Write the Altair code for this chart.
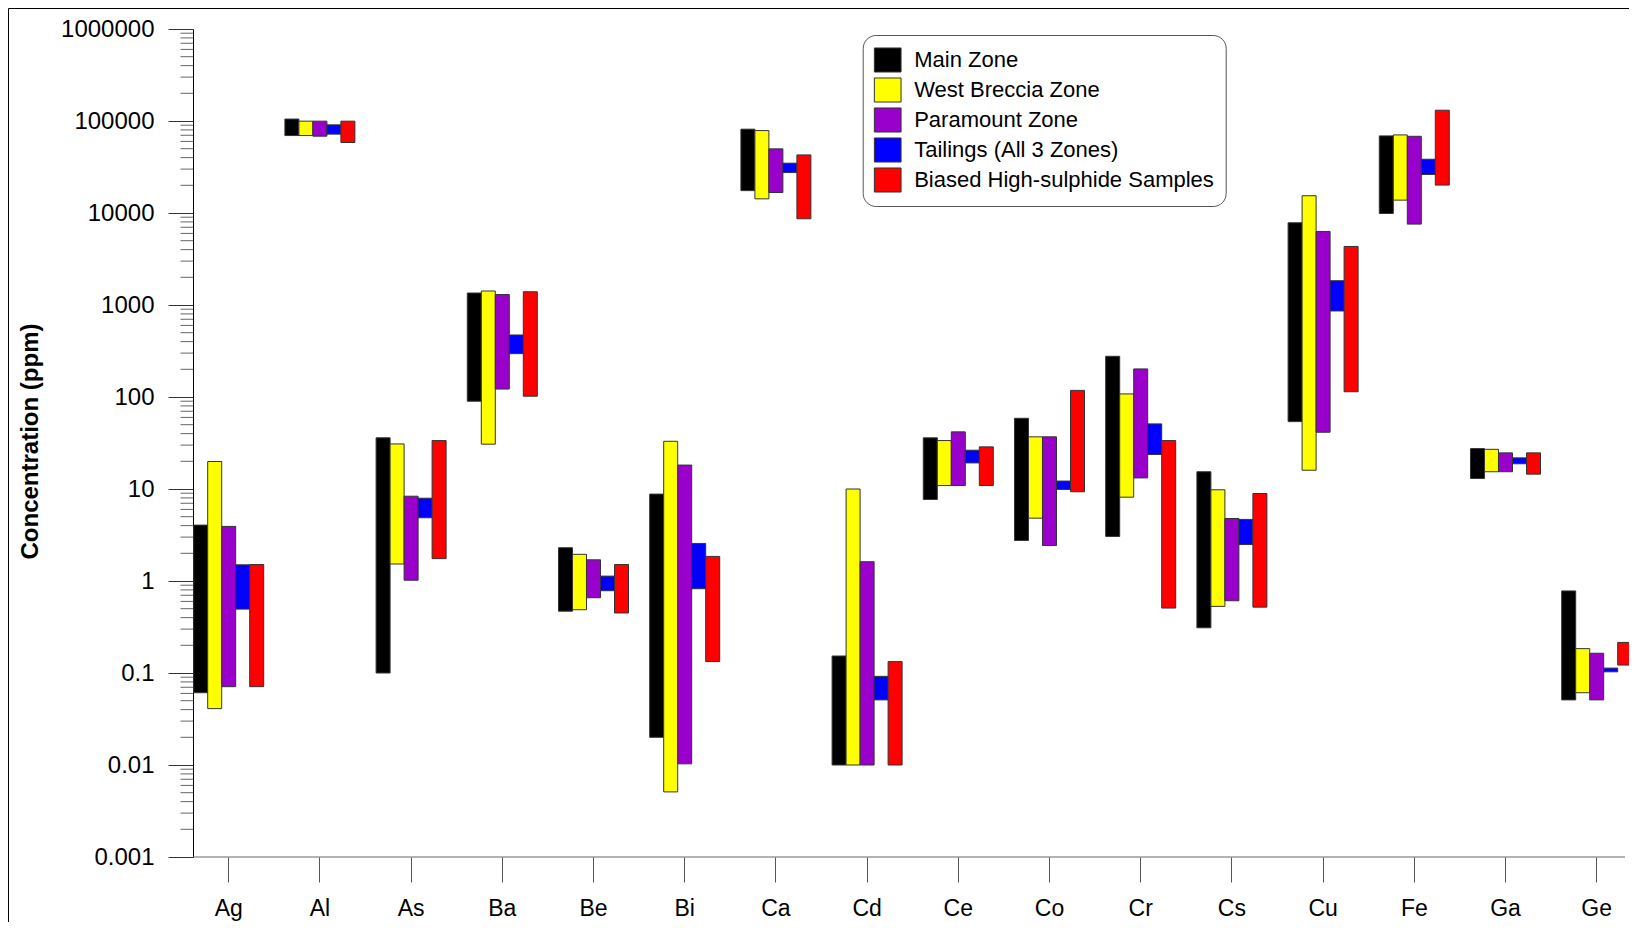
import altair as alt
import pandas as pd

elements = ["Ag", "Al", "As", "Ba", "Be", "Bi", "Ca", "Cd", "Ce", "Co",
            "Cr", "Cs", "Cu", "Fe", "Ga", "Ge"]
series = ["Main Zone", "West Breccia Zone", "Paramount Zone",
          "Tailings (All 3 Zones)", "Biased High-sulphide Samples"]
colors = ["#000000", "#FFFF00", "#9900CC", "#0000FF", "#FF0000"]

main_low = [0.061, 69500, 0.1, 90, 0.47, 0.02, 17500, 0.01, 7.7, 2.76,
            3.05, 0.31, 54, 9880, 13, 0.051]
main_high = [4.05, 105000, 36, 1350, 2.3, 8.8, 81500, 0.153, 36, 58.7,
             277, 15.4, 7830, 68900, 27.5, 0.78]
west_low = [0.041, 69500, 1.53, 30.7, 0.487, 0.0051, 14250, 0.01, 10.9, 4.82,
            8.15, 0.53, 16, 13800, 15.4, 0.061]
west_high = [19.9, 99600, 30.9, 1420, 1.95, 33, 78700, 10, 33.6, 36.9,
             108, 9.8, 15400, 70600, 27, 0.184]
para_low = [0.071, 68400, 1.02, 122, 0.658, 0.0103, 16700, 0.01, 10.9, 2.43,
            13.2, 0.61, 41.4, 7570, 15.4, 0.051]
para_high = [3.92, 99600, 8.35, 1300, 1.70, 18.2, 49800, 1.62, 41.8, 36.9,
             202, 4.78, 6300, 68200, 24.7, 0.164]
tail_low = [0.495, 72000, 4.87, 296, 0.784, 0.824, 27500, 0.051, 19.2, 9.9,
            23.7, 2.49, 861, 26200, 18.8, 0.103]
tail_high = [1.50, 90800, 7.94, 472, 1.13, 2.56, 34800, 0.092, 26.4, 12.2,
             51, 4.67, 1836, 38400, 21.8, 0.113]
bias_low = [0.071, 58400, 1.75, 102, 0.449, 0.133, 8650, 0.01, 10.9, 9.33,
            0.508, 0.52, 114, 20100, 14.5, 0.122]
bias_high = [1.51, 99600, 33.6, 1393, 1.51, 1.85, 42800, 0.133, 28.7, 118,
             33.6, 8.93, 4330, 131000, 24.7, 0.215]

lows = [main_low, west_low, para_low, tail_low, bias_low]
highs = [main_high, west_high, para_high, tail_high, bias_high]

rows = []
for s, lo, hi in zip(series, lows, highs):
    for e, a, b in zip(elements, lo, hi):
        rows.append({"element": e, "series": s, "low": a, "high": b})
df = pd.DataFrame(rows)

major_ticks = [0.001, 0.01, 0.1, 1, 10, 100, 1000, 10000, 100000, 1000000]
minor_ticks = [m * d for d in major_ticks[:-1] for m in range(2, 10)]

W, H = 1432, 828
FONT = "Liberation Sans"
yscale = alt.Scale(type="log", domain=[0.001, 1000000], nice=False)

bars = alt.Chart(df).mark_bar(stroke="#333333", strokeWidth=1, opacity=1).encode(
    x=alt.X("element:N", sort=elements,
            scale=alt.Scale(range=[-9.9, 1449.3], paddingInner=0, paddingOuter=0),
            axis=alt.Axis(title=None, domain=False, tickSize=25, tickColor="#555555",
                          tickWidth=1, labelFontSize=23, labelPadding=15,
                          labelColor="black", labelFont=FONT, labelAngle=0)),
    xOffset=alt.XOffset("series:N", sort=series,
                        scale=alt.Scale(paddingInner=0, paddingOuter=0.757)),
    y=alt.Y("low:Q", scale=yscale,
            axis=alt.Axis(values=major_ticks, format="~f", grid=False,
                          domain=True, domainColor="black", domainWidth=1,
                          ticks=True, labels=True,
                          tickColor="#333333", tickSize=25, tickWidth=1,
                          labelFontSize=24, labelFont=FONT, labelColor="black",
                          labelPadding=14,
                          title="Concentration (ppm)", titleFont=FONT,
                          titleFontSize=24, titleFontWeight="bold",
                          titleColor="black", titleAngle=270,
                          titleX=-155.7, titleY=412, titleAlign="center",
                          titleBaseline="alphabetic")),
    y2="high:Q",
    color=alt.Color("series:N", sort=series,
                    scale=alt.Scale(domain=series, range=colors),
                    legend=alt.Legend(title=None, orient="none", legendX=669.7,
                                      legendY=6, padding=11, cornerRadius=13,
                                      strokeColor="#555555", fillColor="white",
                                      labelFontSize=22, labelFont=FONT,
                                      labelColor="black", labelOffset=12.5,
                                      rowPadding=0, labelLimit=600,
                                      symbolType="M-1,-0.9L1,-0.9L1,0.9L-1,0.9Z",
                                      symbolSize=713, symbolStrokeColor="#333333",
                                      symbolStrokeWidth=1, symbolOpacity=1)),
)

minor = alt.Chart(pd.DataFrame({"v": minor_ticks})).mark_rule(
    color="#666666", strokeWidth=1).encode(
    y=alt.Y("v:Q", scale=yscale),
    x=alt.value(-12.5), x2=alt.value(0))

one = pd.DataFrame({"k": [0]})
xline = alt.Chart(one).mark_rule(color="#666666", strokeWidth=1).encode(
    x=alt.value(0), x2=alt.value(W), y=alt.value(H))
frame_left = alt.Chart(one).mark_rule(color="black", strokeWidth=1).encode(
    x=alt.value(-184.5), y=alt.value(-20.5), y2=alt.value(H + 200))
frame_top = alt.Chart(one).mark_rule(color="black", strokeWidth=1).encode(
    x=alt.value(-184.5), x2=alt.value(W + 200), y=alt.value(-20.5))

chart = alt.layer(bars, minor, xline, frame_left, frame_top).properties(
    width=W, height=H, background="white",
    padding={"left": 185, "top": 21, "right": 4, "bottom": 65},
    autosize=alt.AutoSizeParams(type="none"),
).configure_view(stroke=None)

chart.save("out.html", embed_options={"renderer": "svg", "actions": False})
